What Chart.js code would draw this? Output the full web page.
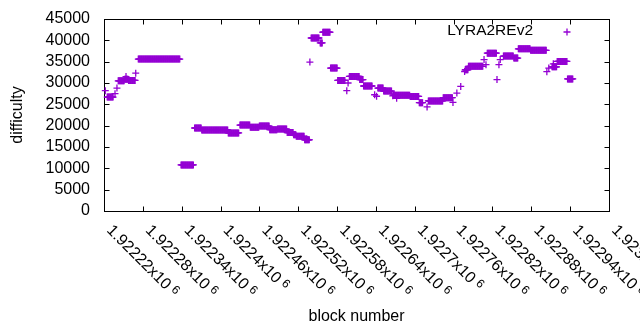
<!DOCTYPE html>
<html>
<head>
<meta charset="utf-8">
<script src="https://cdn.jsdelivr.net/npm/chart.js@4.4.0/dist/chart.umd.min.js"></script>
<style>
  html, body { margin: 0; padding: 0; background: #fff; }
</style>
</head>
<body>
<canvas id="chart" width="640" height="330"></canvas>
<script>
'use strict';

// runs of consecutive blocks that share one difficulty (start block, end block, value)
const runStart = [
    1922222, 1922225, 1922237, 1922240, 1922242, 1922252, 1922254, 1922258, 1922269, 1922273,
    1922339, 1922360, 1922371, 1922412, 1922430, 1922446, 1922460, 1922476, 1922488, 1922503,
    1922513, 1922517, 1922530, 1922533, 1922538, 1922540, 1922554, 1922558, 1922570, 1922581,
    1922595, 1922597, 1922599, 1922615, 1922621, 1922638, 1922641, 1922643, 1922652, 1922666,
    1922667, 1922672, 1922693, 1922707, 1922719, 1922721, 1922744, 1922759, 1922765, 1922771,
    1922777, 1922778, 1922783, 1922807, 1922810, 1922812, 1922827, 1922830, 1922832, 1922837,
    1922853, 1922860, 1922879, 1922904, 1922907, 1922912, 1922914, 1922920, 1922936
];
const runEnd = [
    1922222, 1922234, 1922237, 1922240, 1922251, 1922257, 1922254, 1922268, 1922269, 1922337,
    1922358, 1922370, 1922411, 1922428, 1922445, 1922459, 1922475, 1922487, 1922502, 1922512,
    1922516, 1922529, 1922537, 1922533, 1922538, 1922552, 1922557, 1922569, 1922580, 1922592,
    1922595, 1922597, 1922614, 1922620, 1922634, 1922638, 1922641, 1922651, 1922664, 1922666,
    1922692, 1922672, 1922706, 1922712, 1922719, 1922743, 1922758, 1922759, 1922765, 1922771,
    1922777, 1922782, 1922805, 1922807, 1922810, 1922826, 1922827, 1922830, 1922832, 1922852,
    1922859, 1922878, 1922903, 1922904, 1922907, 1922919, 1922914, 1922935, 1922944
];
const runDifficulty = [
    28200, 26700, 27500, 28800, 30500, 30900, 31500, 30600, 32300, 35600,
    10800, 19450, 19000, 18300, 20150, 19600, 19900, 19050, 19200, 18400,
    17900, 17500, 16700, 16900, 34900, 40550, 39400, 41900, 33500, 30600,
    28200, 30000, 31550, 30800, 29300, 27250, 26900, 28800, 28100, 27000,
    27150, 26400, 26850, 25400, 24400, 25800, 26550, 25450, 27650, 29200,
    32700, 33100, 33900, 35500, 34300, 37000, 30800, 34300, 35500, 36300,
    35850, 38000, 37650, 32650, 33500, 33800, 34500, 35050, 30950
];

const xMin = 1922220, xMax = 1923000, xStep = 60;
const yMin = 0, yMax = 45000, yStep = 5000;
const seriesName = 'LYRA2REv2';

const purple = '#9400d3';
const fontFamily = "'Liberation Sans', Arial, sans-serif";

let points = [];
for (let i = 0; i < runStart.length; i++) {
    for (let b = runStart[i]; b <= runEnd[i]; b++) {
        points.push({x: b, y: runDifficulty[i]});
    }
}

// mantissa part of the gnuplot style "1.92222x10^6" label
function xMantissa(v) {
    return (v / 1e6).toFixed(5).replace(/0+$/, '').replace(/\.$/, '');
}

const frame = {
    id: 'frame',
    beforeDatasetsDraw(chart) {
        const {ctx, chartArea: a, scales: {x, y}} = chart;
        const l = Math.round(a.left) + 0.5, r = Math.round(a.right) + 0.5;
        const t = Math.round(a.top) + 0.5, b = Math.round(a.bottom) + 0.5;
        ctx.save();
        ctx.strokeStyle = '#000';
        ctx.lineWidth = 1;
        ctx.beginPath();
        x.ticks.forEach(tk => {
            const px = Math.round(x.getPixelForValue(tk.value)) + 0.5;
            ctx.moveTo(px, b); ctx.lineTo(px, b - 5);
            ctx.moveTo(px, t); ctx.lineTo(px, t + 5);
        });
        y.ticks.forEach(tk => {
            const py = Math.round(y.getPixelForValue(tk.value)) + 0.5;
            ctx.moveTo(l, py); ctx.lineTo(l + 5, py);
            ctx.moveTo(r, py); ctx.lineTo(r - 5, py);
        });
        ctx.stroke();
        ctx.strokeRect(l, t, r - l, b - t);
        ctx.restore();
    },
    afterDraw(chart) {
        const {ctx, chartArea: a, scales: {x}} = chart;
        ctx.save();
        ctx.fillStyle = '#000';
        ctx.textAlign = 'left';
        ctx.textBaseline = 'middle';
        x.ticks.forEach(tk => {
            const px = x.getPixelForValue(tk.value);
            const m = xMantissa(tk.value) + 'x10';
            ctx.save();
            ctx.translate(px + 5, a.bottom + 17);
            ctx.rotate(Math.PI / 4);
            ctx.font = '16px ' + fontFamily;
            ctx.fillText(m, 0, 0);
            const w = ctx.measureText(m).width;
            ctx.font = '12px ' + fontFamily;
            ctx.fillText('6', w + 4, -3);
            ctx.restore();
        });

        // key, gnuplot style: text then sample marker
        ctx.font = '15.5px ' + fontFamily;
        ctx.textAlign = 'right';
        ctx.fillText(seriesName, 533, 31);
        ctx.strokeStyle = purple;
        ctx.lineWidth = 1.3;
        ctx.beginPath();
        ctx.moveTo(563.5, 32); ctx.lineTo(570.5, 32);
        ctx.moveTo(567, 28.5); ctx.lineTo(567, 35.5);
        ctx.stroke();
        ctx.restore();
    }
};

let canvas = document.getElementById('chart').getContext('2d');
let myChart = new Chart(canvas, {
    type: 'scatter',
    data: {
        datasets: [{
            label: seriesName,
            data: points,
            pointStyle: 'cross',
            pointRadius: 3.5,
            pointHoverRadius: 3.5,
            borderWidth: 1.3,
            borderColor: purple,
            backgroundColor: purple,
            clip: false,
        }]
    },
    plugins: [frame],
    options: {
        responsive: false,
        animation: false,
        events: [],
        layout: {padding: {top: 19, right: 31, left: 0, bottom: 0}},
        plugins: {
            legend: {display: false},
            tooltip: {enabled: false},
        },
        scales: {
            x: {
                type: 'linear',
                min: xMin,
                max: xMax,
                afterFit: (s) => {
                    s.height = 119;
                    s.paddingLeft = 0;
                    s.paddingRight = 0;
                },
                ticks: {display: false, stepSize: xStep, autoSkip: false},
                grid: {display: false},
                border: {display: false},
                title: {
                    display: true,
                    text: 'block number',
                    color: '#000',
                    font: {family: fontFamily, size: 16},
                    padding: {top: 0, bottom: 4},
                },
            },
            y: {
                min: yMin,
                max: yMax,
                afterFit: (s) => {
                    s.width = 104;
                    s.paddingTop = 0;
                    s.paddingBottom = 0;
                },
                ticks: {
                    stepSize: yStep,
                    autoSkip: false,
                    padding: 14,
                    color: '#000',
                    font: {family: fontFamily, size: 16},
                    callback: (v) => String(v),
                },
                grid: {display: false, drawTicks: false},
                border: {display: false},
                title: {
                    display: true,
                    text: 'difficulty',
                    color: '#000',
                    font: {family: fontFamily, size: 16},
                    padding: {top: 8, bottom: 0},
                },
            },
        },
    },
});
</script>
</body>
</html>
